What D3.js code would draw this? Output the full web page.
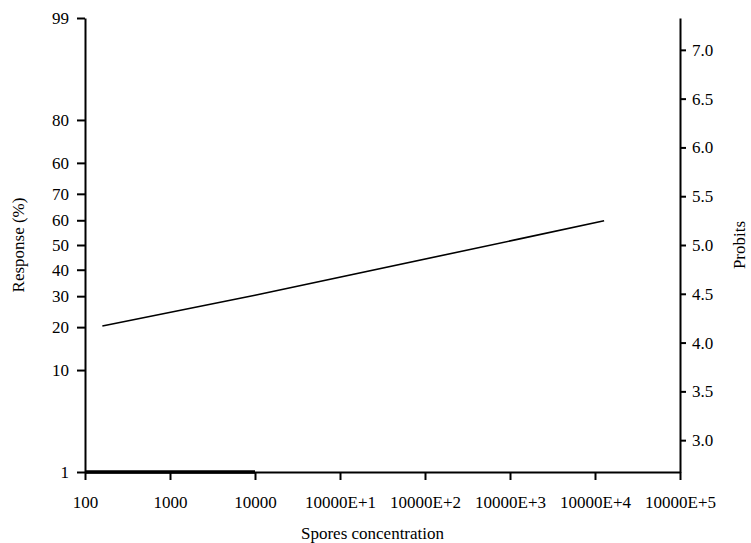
<!DOCTYPE html>
<html>
<head>
<meta charset="utf-8">
<script src="https://cdn.jsdelivr.net/npm/d3@7"></script>
<style>
  body { margin: 0; background: #fff; }
  svg text { font-family: "Liberation Serif", "DejaVu Serif", "Times New Roman", serif; fill: #000; }
</style>
</head>
<body>
<svg id="chart"></svg>
<script>
// spores concentration (x) and response in percent
const doses = [160, 10000, 13000000, 128000000];
const response = [20.3, 30.3, 52.5, 59.8];
// the short heavy stretch lying on the 1% baseline
const baseDoses = [100, 10000];
const baseResponse = [1, 1];

const xTicks = [1e2, 1e3, 1e4, 1e5, 1e6, 1e7, 1e8, 1e9];
const xLabels = ["100", "1000", "10000", "10000E+1", "10000E+2", "10000E+3", "10000E+4", "10000E+5"];
const pctTicks = [99, 90, 80, 70, 60, 50, 40, 30, 20, 10, 1];
const pctLabels = ["99", "80", "60", "70", "60", "50", "40", "30", "20", "10", "1"];
const probitTicks = [3.0, 3.5, 4.0, 4.5, 5.0, 5.5, 6.0, 6.5, 7.0];

const W = 751, H = 543;
const mLeft = 85, mRight = 680, mTop = 18, mBottom = 472;
const serif = '"Liberation Serif", "DejaVu Serif", "Times New Roman", serif';

// inverse normal cdf (Acklam), probit = 5 + z
function probit(pct) {
    const p = pct / 100;
    const a = [-39.69683028665376, 220.9460984245205, -275.9285104469687, 138.3577518672690, -30.66479806614716, 2.506628277459239];
    const b = [-54.47609879822406, 161.5858368580409, -155.6989798598866, 66.80131188771972, -13.28068155288572];
    const c = [-0.007784894002430293, -0.3223964580411365, -2.400758277161838, -2.549732539343734, 4.374664141464968, 2.938163982698783];
    const d = [0.007784695709041462, 0.3224671290700398, 2.445134137142996, 3.754408661907416];
    const pl = 0.02425;
    let z;
    if (p < pl) {
        const q = Math.sqrt(-2 * Math.log(p));
        z = (((((c[0]*q+c[1])*q+c[2])*q+c[3])*q+c[4])*q+c[5]) / ((((d[0]*q+d[1])*q+d[2])*q+d[3])*q+1);
    } else if (p <= 1 - pl) {
        const q = p - 0.5, r = q * q;
        z = (((((a[0]*r+a[1])*r+a[2])*r+a[3])*r+a[4])*r+a[5])*q / (((((b[0]*r+b[1])*r+b[2])*r+b[3])*r+b[4])*r+1);
    } else {
        const q = Math.sqrt(-2 * Math.log(1 - p));
        z = -(((((c[0]*q+c[1])*q+c[2])*q+c[3])*q+c[4])*q+c[5]) / ((((d[0]*q+d[1])*q+d[2])*q+d[3])*q+1);
    }
    return 5 + z;
}

const svg = d3.select("#chart").attr("width", W).attr("height", H);

const x = d3.scaleLog().domain([100, 1e9]).range([mLeft, mRight]);
const y = d3.scaleLinear().domain([probit(1), probit(99)]).range([mBottom, mTop]);

// axes
const gx = svg.append("g")
    .attr("transform", `translate(0,${mBottom})`)
    .call(d3.axisBottom(x).tickValues(xTicks)
        .tickFormat((d, i) => xLabels[i])
        .tickSize(8).tickSizeOuter(0).tickPadding(16));

const gl = svg.append("g")
    .attr("transform", `translate(${mLeft},0)`)
    .call(d3.axisLeft(y).tickValues(pctTicks.map(probit))
        .tickFormat((d, i) => pctLabels[i])
        .tickSize(8).tickSizeOuter(0).tickPadding(8));

const gr = svg.append("g")
    .attr("transform", `translate(${mRight},0)`)
    .call(d3.axisRight(y).tickValues(probitTicks)
        .tickFormat(d3.format(".1f"))
        .tickSize(6).tickSizeOuter(0).tickPadding(6));

[gx, gl, gr].forEach(g => {
    g.attr("font-family", serif);
    g.select(".domain").attr("stroke", "#000").attr("stroke-width", 2);
    g.selectAll(".tick line").attr("stroke", "#000").attr("stroke-width", 2);
    g.selectAll(".tick text")
        .style("font-family", serif)
        .style("font-size", "17px")
        .attr("fill", "#000");
});

const line = d3.line()
    .x(d => x(d[0]))
    .y(d => y(probit(d[1])))
    .curve(d3.curveLinear);

svg.append("path")
    .attr("d", line(d3.zip(baseDoses, baseResponse)))
    .attr("stroke", "#000")
    .attr("stroke-width", 3.5)
    .attr("fill", "none");

svg.append("path")
    .attr("d", line(d3.zip(doses, response)))
    .attr("stroke", "#000")
    .attr("stroke-width", 1.6)
    .attr("fill", "none");

// titles
svg.append("text")
    .attr("transform", `translate(24,${(mTop + mBottom) / 2}) rotate(-90)`)
    .attr("text-anchor", "middle")
    .style("font-family", serif)
    .style("font-size", "17px")
    .text("Response (%)");

svg.append("text")
    .attr("transform", `translate(745,${(mTop + mBottom) / 2}) rotate(-90)`)
    .attr("text-anchor", "middle")
    .style("font-family", serif)
    .style("font-size", "17px")
    .text("Probits");

svg.append("text")
    .attr("x", (mLeft + mRight) / 2 - 10)
    .attr("y", 539)
    .attr("text-anchor", "middle")
    .style("font-family", serif)
    .style("font-size", "17px")
    .text("Spores concentration");
</script>
</body>
</html>
